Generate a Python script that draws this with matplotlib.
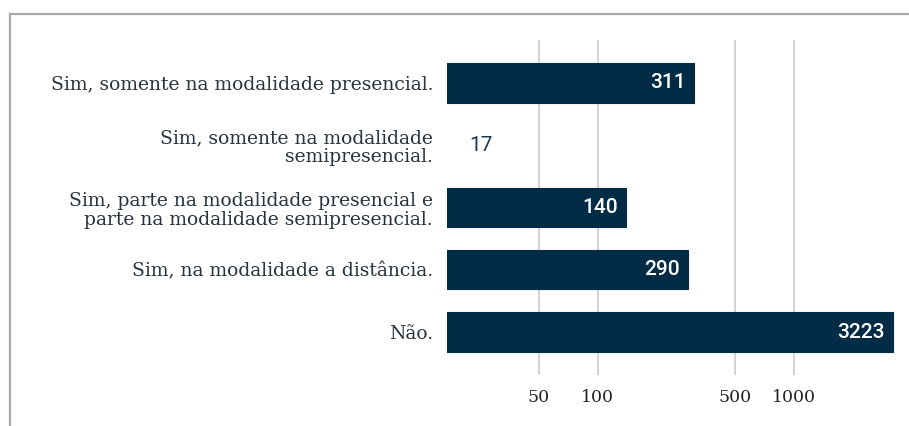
import matplotlib
matplotlib.use("Agg")
import matplotlib.pyplot as plt
from matplotlib.lines import Line2D

categories = [
    "Sim, somente na modalidade presencial.",
    "Sim, somente na modalidade\nsemipresencial.",
    "Sim, parte na modalidade presencial e\nparte na modalidade semipresencial.",
    "Sim, na modalidade a distância.",
    "Não.",
]
values = [311, 17, 140, 290, 3223]
xticks = [50, 100, 500, 1000]
xticklabels = ["50", "100", "500", "1000"]

W, H = 909, 426
fig = plt.figure(figsize=(W / 100, H / 100), dpi=100)
fig.patch.set_facecolor("white")

ax_left, ax_right = 447, 898
ax_top, ax_bottom = 40, 375
ax = fig.add_axes([ax_left / W, (H - ax_bottom) / H,
                   (ax_right - ax_left) / W, (ax_bottom - ax_top) / H])

bar_color = "#022c45"
ypos = list(range(len(categories)))
xmin = 17
bars = ax.barh(ypos, [v - xmin for v in values], left=xmin, height=0.63,
               color=bar_color, edgecolor=bar_color, linewidth=0.8, zorder=3)
for b, v in zip(bars, values):
    b.set_joinstyle("round")
    if v <= xmin:
        b.set_linewidth(0)

ax.set_xscale("log")
ax.set_xlim(xmin, 3400)
ax.set_ylim(4.69, -0.69)

ax.set_xticks(xticks)
ax.set_xticklabels(xticklabels)
ax.xaxis.set_minor_locator(matplotlib.ticker.NullLocator())
ax.tick_params(axis="x", length=0, pad=10, labelsize=12.5, labelcolor="#222222")
for lbl in ax.get_xticklabels():
    lbl.set_family("DejaVu Serif")
ax.grid(axis="x", color="#cccccc", linewidth=1.2, zorder=0)

ax.set_yticks(ypos)
ax.set_yticklabels(categories, family="DejaVu Serif", fontsize=13.5,
                   color="#26343e", linespacing=1.08)
ax.tick_params(axis="y", length=0, pad=10)

for s in ax.spines.values():
    s.set_visible(False)

for y, v in zip(ypos, values):
    if v > 40:
        ax.annotate(str(v), xy=(v, y), xytext=(-6.5, 0), textcoords="offset points",
                    ha="right", va="center", color="white", family="Roboto",
                    fontsize=15, fontweight="medium", zorder=4)
    else:
        ax.annotate(str(v), xy=(v, y), xytext=(16, 0), textcoords="offset points",
                    ha="left", va="center", color="#1c3a55", family="Roboto",
                    fontsize=15, zorder=4)

# container frame (top and left edges)
fig.add_artist(Line2D([10 / W, 1], [1 - 14 / H, 1 - 14 / H], color="#aaaaaa",
                      linewidth=1.6, transform=fig.transFigure))
fig.add_artist(Line2D([10 / W, 10 / W], [0, 1 - 14 / H], color="#aaaaaa",
                      linewidth=1.6, transform=fig.transFigure))

fig.savefig("out.png", dpi=100)
